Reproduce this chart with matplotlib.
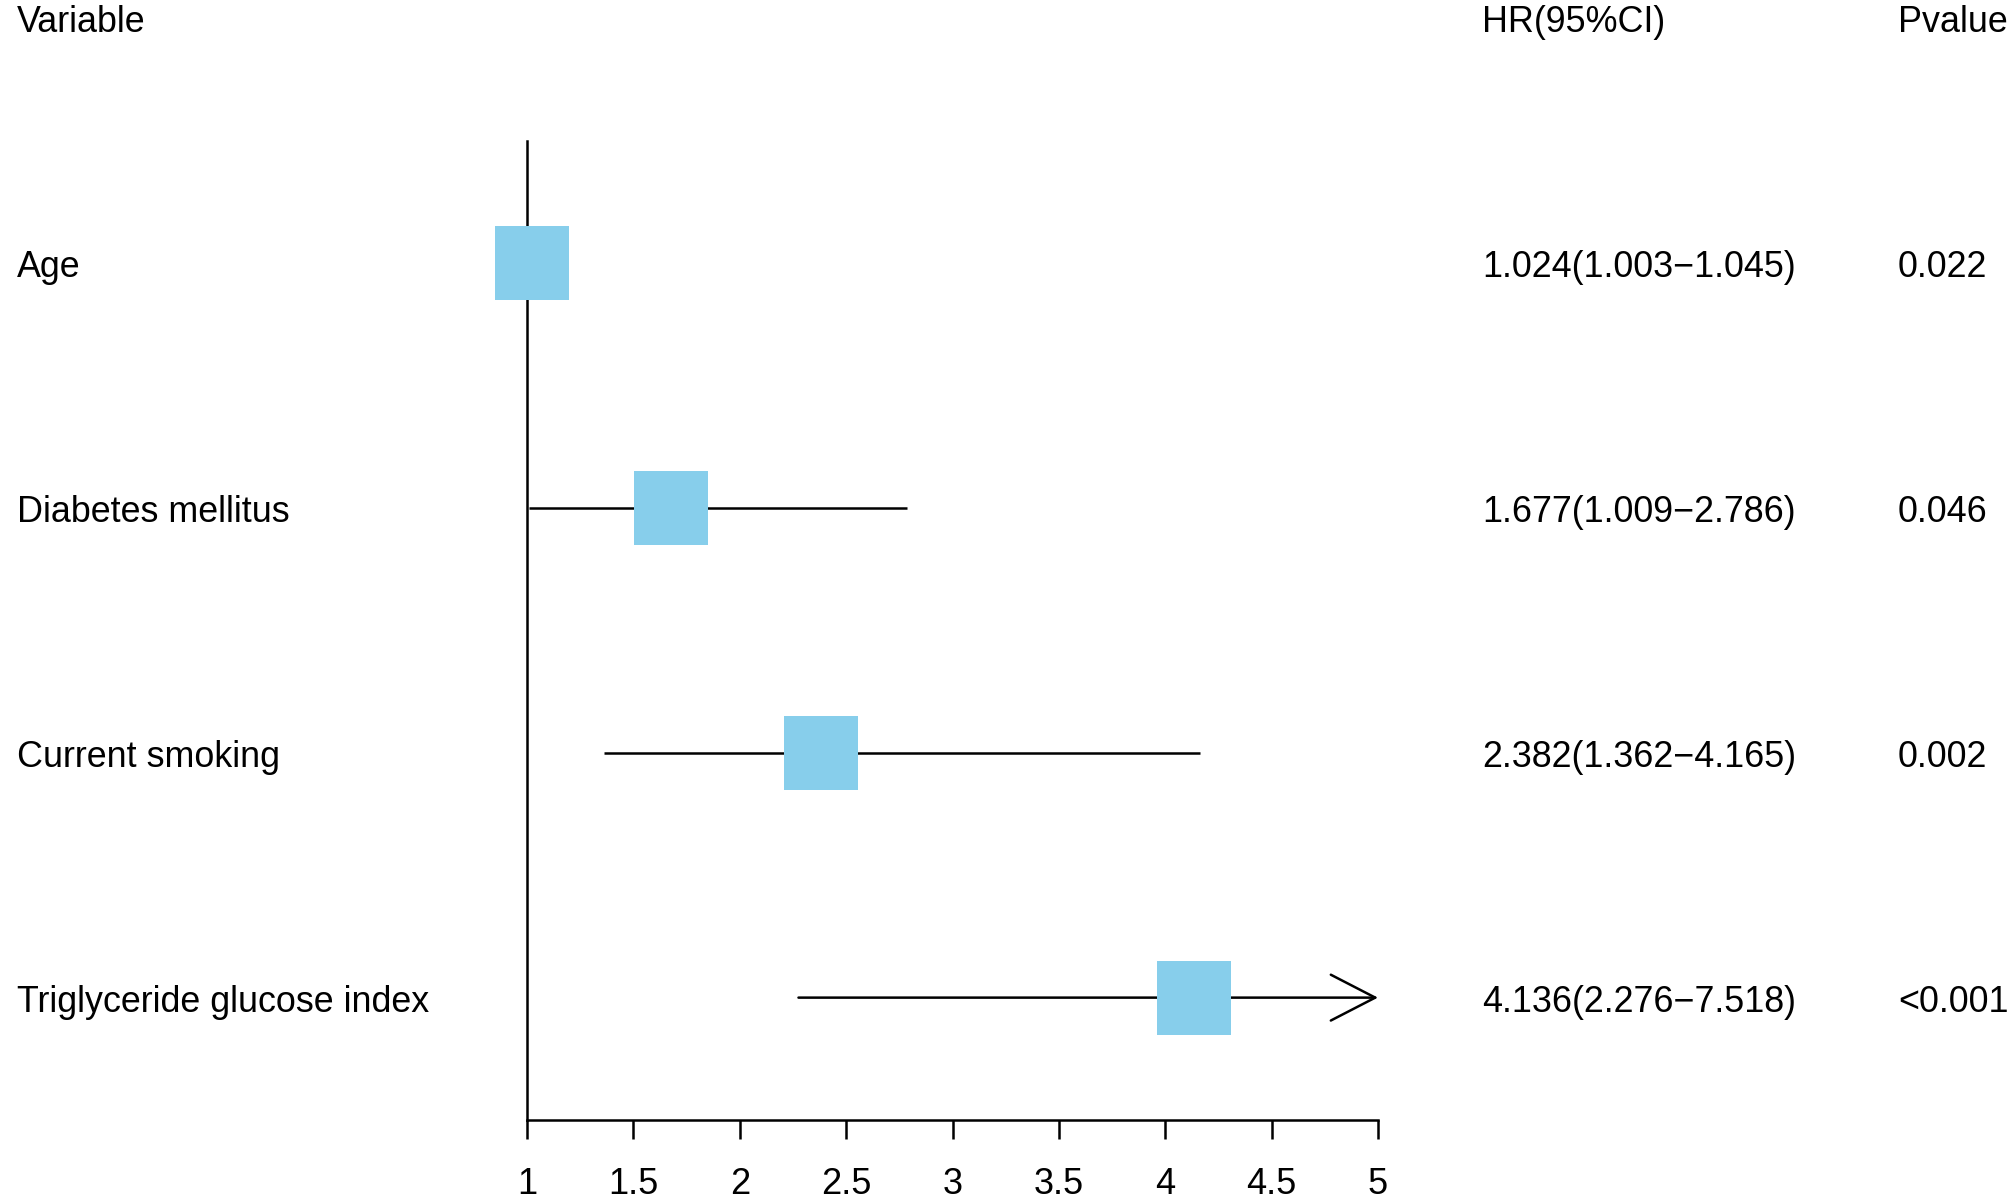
import numpy as np
import matplotlib
matplotlib.use("Agg")
import matplotlib.pyplot as plt
import matplotlib.transforms as mtrans

variables = ["Age", "Diabetes mellitus", "Current smoking", "Triglyceride glucose index"]
hr = [1.024, 1.677, 2.382, 4.136]
ci_low = [1.003, 1.009, 1.362, 2.276]
ci_high = [1.045, 2.786, 4.165, 7.518]
pvals = ["0.022", "0.046", "0.002", "<0.001"]
xticks = [1, 1.5, 2, 2.5, 3, 3.5, 4, 4.5, 5]
xmax = 5

plt.rcParams['font.family'] = ['Liberation Sans', 'DejaVu Sans']
W, H = 2008, 1202
fig = plt.figure(figsize=(W / 100, H / 100), dpi=100)

# axis box in pixels: x=1 at 527, x=5 at 1378; vertical line 141..1120 from top
ax = fig.add_axes([527 / W, (H - 1120) / H, (1378 - 527) / W, (1120 - 141) / H])
ax.set_xlim(1, xmax)
ax.set_ylim(len(variables) - 0.5, -0.5)

lw = 1.8
for i in range(len(variables)):
    lo, hi = ci_low[i], ci_high[i]
    if hi > xmax:
        ax.annotate('', xy=(xmax, i), xytext=(lo, i),
                    arrowprops=dict(arrowstyle='->,head_length=32,head_width=16.5',
                                    mutation_scale=1, lw=lw, color='black',
                                    shrinkA=0, shrinkB=0), zorder=2,
                    annotation_clip=False)
    else:
        ax.plot([lo, hi], [i, i], color='black', lw=lw, zorder=2, solid_capstyle='butt')
    ax.plot(hr[i], i, marker='s', markersize=53, color='#87CEEB', markeredgewidth=0,
            zorder=3, clip_on=False)

for s in ['top', 'right']:
    ax.spines[s].set_visible(False)
ax.spines['left'].set_linewidth(lw)
ax.spines['bottom'].set_linewidth(lw)
ax.set_yticks([])
ax.set_xticks(xticks)
ax.set_xticklabels([f"{t:g}" for t in xticks], fontsize=26)
ax.tick_params(axis='x', length=14, width=lw, pad=20)

# text columns, baseline ~14 px below row centre
trans = mtrans.blended_transform_factory(fig.transFigure, ax.transData)
trans = trans + mtrans.ScaledTranslation(0, -14 / 100, fig.dpi_scale_trans)
fs = 25.8
for i, v in enumerate(variables):
    fig.text(17 / W, i, v, transform=trans, fontsize=fs, va='baseline', ha='left')
    fig.text(1482 / W, i, f"{hr[i]:.3f}({ci_low[i]:.3f}\u2212{ci_high[i]:.3f})",
             transform=trans, fontsize=fs, va='baseline', ha='left')
    fig.text(1898 / W, i, pvals[i], transform=trans, fontsize=fs, va='baseline', ha='left')

ytop = 1 - 32 / H
fig.text(17 / W, ytop, "Variable", fontsize=fs, va='baseline', ha='left')
fig.text(1482 / W, ytop, "HR(95%CI)", fontsize=fs, va='baseline', ha='left')
fig.text(1898 / W, ytop, "Pvalue", fontsize=fs, va='baseline', ha='left')

fig.savefig("out.png", dpi=100)
